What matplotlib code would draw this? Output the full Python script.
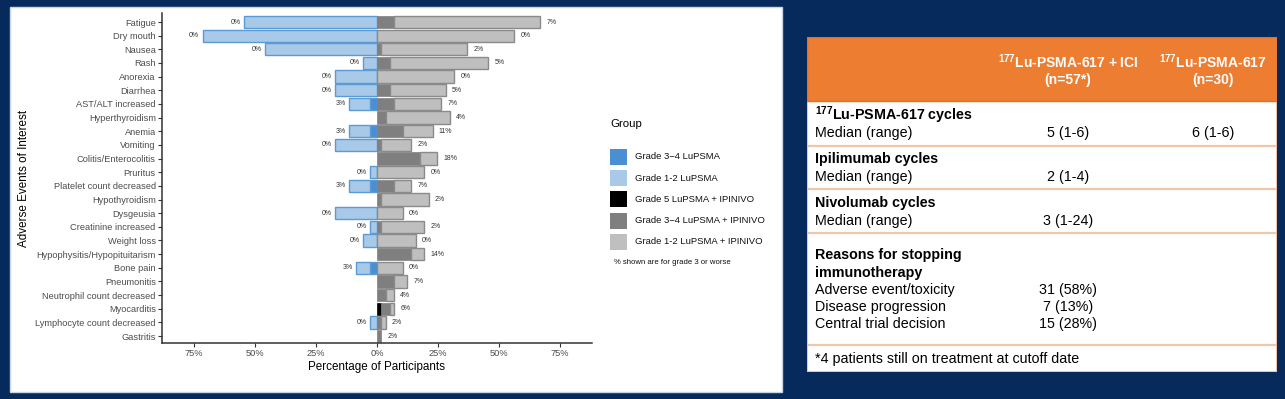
import matplotlib.pyplot as plt
import numpy as np
from matplotlib.patches import Rectangle

plt.rcParams['font.family'] = ['Liberation Sans', 'DejaVu Sans']
plt.rcParams['mathtext.fontset'] = 'custom'
plt.rcParams['mathtext.rm'] = 'Liberation Sans'
plt.rcParams['mathtext.bf'] = 'Liberation Sans:bold'

# ---------------- data (percent of participants) ----------------
events = ['Fatigue', 'Dry mouth', 'Nausea', 'Rash', 'Anorexia', 'Diarrhea',
          'AST/ALT increased', 'Hyperthyroidism', 'Anemia', 'Vomiting',
          'Colitis/Enterocolitis', 'Pruritus', 'Platelet count decreased',
          'Hypothyroidism', 'Dysgeusia', 'Creatinine increased', 'Weight loss',
          'Hypophysitis/Hypopituitarism', 'Bone pain', 'Pneumonitis',
          'Neutrophil count decreased', 'Myocarditis',
          'Lymphocyte count decreased', 'Gastritis']

# LuPSMA arm (drawn to the left)
lu_g34 = [0, 0, 0, 0, 0, 0, 2.9, 0, 2.9, 0, 0, 0, 2.9, 0, 0, 0, 0, 0, 2.9, 0, 0, 0, 0, 0]
lu_g12 = [54.3, 71.4, 45.7, 5.7, 17.1, 17.1, 8.6, 0, 8.6, 17.1, 0, 2.9, 8.6, 0,
          17.1, 2.9, 5.7, 0, 5.7, 0, 0, 0, 2.9, 0]
lu_labels = ['0%', '0%', '0%', '0%', '0%', '0%', '3%', '', '3%', '0%', '', '0%', '3%', '',
             '0%', '0%', '0%', '', '3%', '', '', '', '0%', '']

# LuPSMA + IPINIVO arm (drawn to the right)
ipi_g5 = [0, 0, 0, 0, 0, 0, 0, 0, 0, 0, 0, 0, 0, 0, 0, 0, 0, 0, 0, 0, 0, 1.8, 0, 0]
ipi_g34 = [7.0, 0, 1.8, 5.3, 0, 5.3, 7.0, 3.5, 10.5, 1.8, 17.5, 0, 7.0, 1.8, 0, 1.8,
           0, 14.0, 0, 7.0, 3.5, 3.7, 1.8, 1.8]
ipi_g12 = [59.7, 56.1, 35.0, 40.3, 31.6, 22.8, 19.3, 26.3, 12.3, 12.2, 7.1, 19.3, 7.0,
           19.3, 10.5, 17.5, 15.8, 5.3, 10.5, 5.3, 3.5, 1.5, 1.8, 0]
ipi_labels = ['7%', '0%', '2%', '5%', '0%', '5%', '7%', '4%', '11%', '2%', '18%', '0%', '7%',
              '2%', '0%', '2%', '0%', '14%', '0%', '7%', '4%', '6%', '2%', '2%']

groups = ['Grade 3\u22124 LuPSMA', 'Grade 1-2 LuPSMA', 'Grade 5 LuPSMA + IPINIVO',
          'Grade 3\u22124 LuPSMA + IPINIVO', 'Grade 1-2 LuPSMA + IPINIVO']
group_colors = ['#4a8fd2', '#a9c9e9', '#000000', '#7f7f7f', '#bfbfbf']

x_ticks = [-75, -50, -25, 0, 25, 50, 75]

# table contents
col_heads = [(r'$^{\mathbf{177}}$Lu-PSMA-617 + ICI', '(n=57*)'),
             (r'$^{\mathbf{177}}$Lu-PSMA-617', '(n=30)')]
tbl_rows = [
    # (text, bold, col1, col2, y)
    (r'$^{\mathbf{177}}$Lu-PSMA-617 cycles', True, '', '', 115),
    ('Median (range)', False, '5 (1-6)', '6 (1-6)', 133),
    ('Ipilimumab cycles', True, '', '', 159),
    ('Median (range)', False, '2 (1-4)', '', 177),
    ('Nivolumab cycles', True, '', '', 203),
    ('Median (range)', False, '3 (1-24)', '', 221),
    ('Reasons for stopping', True, '', '', 255),
    ('immunotherapy', True, '', '', 273),
    ('Adverse event/toxicity', False, '31 (58%)', '', 290),
    ('Disease progression', False, '7 (13%)', '', 307),
    ('Central trial decision', False, '15 (28%)', '', 324),
    ('*4 patients still on treatment at cutoff date', False, '', '', 359),
]
tbl_lines = [146, 189, 233, 345]

# ---------------- figure ----------------
W, H = 1285, 399
navy = '#062a5b'
fig = plt.figure(figsize=(W / 100, H / 100), dpi=100)
fig.patch.set_facecolor(navy)

def fx(px):
    return px / W

def fy(py):
    return 1 - py / H

# white panel behind the chart
fig.add_artist(Rectangle((fx(10), fy(392)), 772 / W, 385 / H, transform=fig.transFigure,
                         facecolor='white', edgecolor='#c9d4e3', lw=1, zorder=0))

ax = fig.add_axes([fx(162), fy(343), (592 - 162) / W, (343 - 13) / H])
n = len(events)
y = np.arange(n)[::-1]

lu_g34 = np.array(lu_g34)
lu_g12 = np.array(lu_g12)
ipi_g5 = np.array(ipi_g5)
ipi_g34 = np.array(ipi_g34)
ipi_g12 = np.array(ipi_g12)

bh = 0.9
blue_edge = '#5b9bd5'
gray_edge = '#8a8a8a'

# left side: grade 3-4 next to zero, grade 1-2 outside
m = lu_g34 > 0
ax.barh(y[m], -lu_g34[m], height=bh, color=group_colors[0], edgecolor=blue_edge, lw=1)
m = lu_g12 > 0
ax.barh(y[m], -lu_g12[m], left=-lu_g34[m], height=bh, color=group_colors[1],
        edgecolor=blue_edge, lw=1)

# right side: grade 5, grade 3-4, grade 1-2
m = ipi_g5 > 0
ax.barh(y[m], ipi_g5[m], height=bh, color=group_colors[2], edgecolor=group_colors[2], lw=0.5)
m = ipi_g34 > 0
ax.barh(y[m], ipi_g34[m], left=ipi_g5[m], height=bh, color=group_colors[3],
        edgecolor=group_colors[3], lw=0.5)
m = ipi_g12 > 0
ax.barh(y[m], ipi_g12[m], left=(ipi_g5 + ipi_g34)[m], height=bh, color=group_colors[4],
        edgecolor=gray_edge, lw=1)

lu_tot = lu_g34 + lu_g12
ipi_tot = ipi_g5 + ipi_g34 + ipi_g12
for i in range(n):
    if lu_labels[i]:
        ax.annotate(lu_labels[i], (-lu_tot[i], y[i]), xytext=(-2.5, 0),
                    textcoords='offset points', ha='right', va='center',
                    fontsize=5, color='#333333')
    ax.annotate(ipi_labels[i], (ipi_tot[i], y[i]), xytext=(4.5, 0),
                textcoords='offset points', ha='left', va='center',
                fontsize=5, color='#333333')

ax.set_xlim(-88, 88)
ax.set_ylim(-0.51, n - 1 + 0.66)
ax.set_yticks(y)
ax.set_yticklabels(events)
ax.set_xticks(x_ticks)
ax.set_xticklabels([f'{abs(t)}%' for t in x_ticks])
ax.tick_params(axis='both', labelsize=6.7, labelcolor='#4d4d4d', color='#333333',
               length=3, width=0.8, pad=1.5)
for s in ['top', 'right']:
    ax.spines[s].set_visible(False)
for s in ['left', 'bottom']:
    ax.spines[s].set_color('#333333')
    ax.spines[s].set_linewidth(1.1)
ax.set_xlabel('Percentage of Participants', fontsize=8.4, color='black', labelpad=2)
ax.set_ylabel('Adverse Events of Interest', fontsize=8.4, color='black')
ax.yaxis.set_label_coords((30 - 162) / 430, 0.5)

# legend
fig.text(fx(610), fy(124), 'Group', fontsize=8.2, va='center', ha='left')
for k, (g, c) in enumerate(zip(groups, group_colors)):
    yc = 157 + k * 21.2
    fig.add_artist(Rectangle((fx(610), fy(yc + 8)), 17 / W, 16 / H,
                             transform=fig.transFigure, facecolor=c, edgecolor='none'))
    fig.text(fx(635), fy(yc), g, fontsize=6.8, va='center', ha='left', color='#111111')
fig.text(fx(614), fy(262), '% shown are for grade 3 or worse', fontsize=5.6,
         va='center', ha='left', color='#111111')

# ---------------- table ----------------
tx0, tx1, ty0, ty1 = 807, 1277, 37, 372
tb = fig.add_axes([fx(tx0), fy(ty1), (tx1 - tx0) / W, (ty1 - ty0) / H])
tb.set_xlim(tx0, tx1)
tb.set_ylim(ty1, ty0)
tb.axis('off')
tb.add_patch(Rectangle((tx0, 101), tx1 - tx0, ty1 - 101, facecolor='white',
                       edgecolor='#efc3a3', lw=1.5))
tb.add_patch(Rectangle((tx0, ty0), tx1 - tx0, 101 - ty0, facecolor='#ed7d31',
                       edgecolor='#e07228', lw=1))
for ly in tbl_lines:
    tb.plot([tx0, tx1], [ly, ly], color='#f0c6a6', lw=1.6)

col_x = [1068, 1213]
for cx, (h1, h2) in zip(col_x, col_heads):
    tb.text(cx, 62, h1, ha='center', va='center', fontsize=10, fontweight='bold', color='white')
    tb.text(cx, 80, h2, ha='center', va='center', fontsize=10, fontweight='bold', color='white')

for txt, bold, c1, c2, ry in tbl_rows:
    tb.text(815, ry, txt, ha='left', va='center', fontsize=10.3,
            fontweight='bold' if bold else 'normal', color='black')
    if c1:
        tb.text(col_x[0], ry, c1, ha='center', va='center', fontsize=10.3, color='black')
    if c2:
        tb.text(col_x[1], ry, c2, ha='center', va='center', fontsize=10.3, color='black')

fig.savefig('out.png', dpi=100, facecolor=fig.get_facecolor())
